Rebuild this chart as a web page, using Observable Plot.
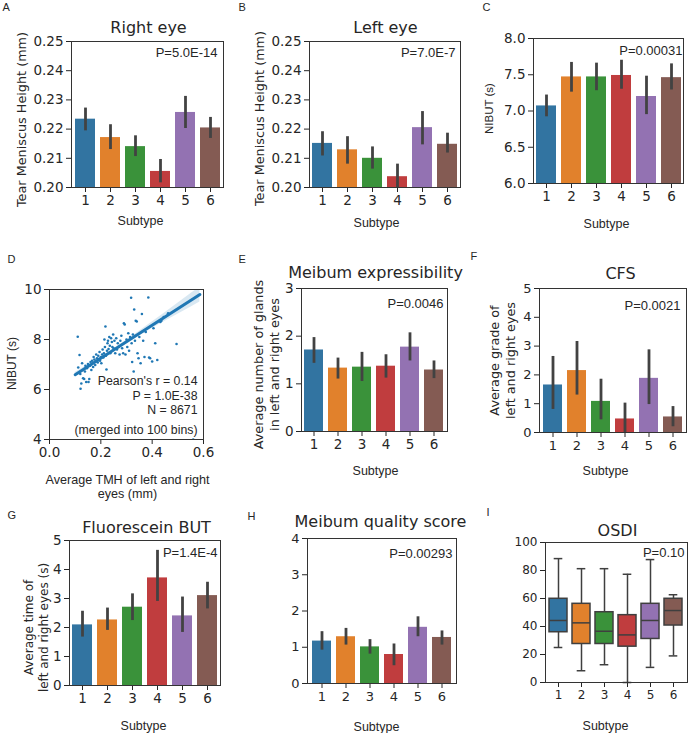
<!DOCTYPE html>
<html><head><meta charset="utf-8">
<script src="https://cdn.jsdelivr.net/npm/d3@7"></script>
<script src="https://cdn.jsdelivr.net/npm/@observablehq/plot@0.6"></script>
<style>
body{margin:0;background:#fff;}
#fig{position:relative;width:690px;height:733px;overflow:hidden;background:#fff;}
#fig svg{position:absolute;left:0;top:0;}
</style></head><body><div id="fig"></div>
<script>
// ---------- data ----------
const subtypes = ["1","2","3","4","5","6"];
const palette = ["#3274a1","#e1812c","#3a923a","#c03d3e","#9372b2","#845b53"];

// A: Right eye TMH
const rightEyeMean = [0.2234,0.2171,0.2140,0.2055,0.2257,0.2204];
const rightEyeLow  = [0.2194,0.2130,0.2106,0.2016,0.2202,0.2168];
const rightEyeHigh = [0.2272,0.2215,0.2177,0.2096,0.2312,0.2240];
// B: Left eye TMH
const leftEyeMean = [0.2151,0.2129,0.2100,0.2037,0.2205,0.2148];
const leftEyeLow  = [0.2108,0.2080,0.2063,0.2000,0.2146,0.2118];
const leftEyeHigh = [0.2191,0.2174,0.2139,0.2080,0.2260,0.2186];
const tmhTicks = [0.20,0.21,0.22,0.23,0.24,0.25];
// C: NIBUT
const nibutMean = [7.07,7.47,7.47,7.49,7.20,7.46];
const nibutLow  = [6.92,7.26,7.28,7.30,6.95,7.29];
const nibutHigh = [7.22,7.67,7.66,7.70,7.48,7.65];
const nibutTicks = [6.0,6.5,7.0,7.5,8.0];
// D: scatter of binned TMH vs NIBUT
const binTMH = [0.110,0.117,0.112,0.120,0.121,0.124,0.127,0.131,0.135,0.138,0.140,0.143,0.146,0.150,0.152,0.155,0.158,0.160,0.163,0.166,0.170,
  0.172,0.175,0.178,0.180,0.182,0.185,0.188,0.190,0.192,0.195,0.197,0.200,0.202,0.205,0.207,0.210,0.212,0.214,0.216,0.218,0.220,0.222,0.224,0.226,0.228,0.230,0.233,0.235,0.237,0.240,0.243,0.245,0.248,0.250,0.253,0.256,
  0.260,0.263,0.266,0.270,0.273,0.276,0.280,0.283,0.287,0.290,0.293,0.296,0.300,0.303,0.307,0.310,0.314,0.318,0.320,0.322,0.325,0.328,0.330,0.333,0.336,0.340,0.343,0.347,0.350,0.355,0.360,0.365,0.370,0.375,
  0.385,0.388,0.392,0.400,0.405,0.412,0.420,0.432,0.436,0.445,0.462,0.495,0.560];
const binNIBUT = [8.11,7.38,6.88,6.62,6.03,6.24,7.05,6.45,6.42,6.72,6.95,6.30,6.85,7.02,6.30,6.42,6.95,7.10,6.78,7.15,6.90,
  7.30,7.20,6.98,7.12,7.40,7.25,7.08,7.35,7.22,7.50,7.15,7.30,7.05,7.40,7.60,7.28,7.45,8.00,7.70,8.52,7.35,6.80,7.55,7.85,7.95,7.62,8.10,7.75,7.45,8.05,7.90,7.70,8.20,7.65,7.95,7.45,
  8.05,7.60,7.85,7.70,7.40,7.95,8.15,7.65,7.45,8.65,8.60,7.40,8.00,7.70,8.25,7.55,8.10,9.67,7.85,7.10,8.20,6.72,9.20,7.95,8.75,8.72,7.45,7.25,8.10,7.05,9.02,7.95,7.30,8.30,
  9.68,7.28,7.25,7.12,8.45,7.85,7.18,8.70,8.75,8.90,9.05,7.82,4.00];
const regX = [0.100,0.586];
const regY = [6.59,9.80];
const bandX    = [0.100,0.150,0.200,0.250,0.300,0.350,0.400,0.450,0.500,0.550,0.586];
const bandLow  = [6.50,6.85,7.20,7.53,7.85,8.15,8.44,8.73,9.01,9.29,9.50];
const bandHigh = [6.68,6.99,7.30,7.63,7.97,8.33,8.70,9.07,9.45,9.83,10.10];
const dXTicks = [0,0.2,0.4,0.6];
const dYTicks = [4,6,8,10];
// E: Meibum expressibility
const expressMean = [1.71,1.33,1.35,1.37,1.77,1.29];
const expressLow  = [1.43,1.10,1.05,1.12,1.48,1.11];
const expressHigh = [1.97,1.54,1.66,1.61,2.07,1.48];
// F: CFS
const cfsMean = [1.65,2.15,1.08,0.47,1.88,0.54];
const cfsLow  = [0.80,1.30,0.44,0.00,0.97,0.20];
const cfsHigh = [2.64,3.16,1.85,1.02,2.87,0.90];
// G: Fluorescein BUT
const fbutMean = [2.09,2.26,2.70,3.71,2.40,3.10];
const fbutLow  = [1.67,1.90,2.24,2.90,1.83,2.64];
const fbutHigh = [2.56,2.67,3.16,4.66,3.05,3.56];
// H: Meibum quality score
const qualityMean = [1.17,1.29,1.01,0.80,1.55,1.27];
const qualityLow  = [0.92,1.06,0.81,0.49,1.29,1.06];
const qualityHigh = [1.43,1.52,1.21,1.09,1.84,1.45];
// I: OSDI boxplot
const osdiWhiskerLow  = [25.0,8.4,12.7,0.0,10.8,19.0];
const osdiQ1          = [35.9,27.5,27.5,25.6,31.1,40.7];
const osdiMedian      = [44.3,42.6,36.6,34.0,44.3,51.4];
const osdiQ3          = [59.8,56.2,50.2,48.1,56.2,59.8];
const osdiWhiskerHigh = [88.5,81.3,81.3,77.3,87.8,62.7];

// ---------- layout ----------
const W = 690, H = 733;
const DJ = "DejaVu Sans, sans-serif";
const LS = "Liberation Sans, Arial, sans-serif";
const INK = "#262626";
const fig = document.getElementById("fig");

function txt(frame, s, px, py, o = {}) {
  return Plot.text([s], {frameAnchor: "top-left", dx: px - frame[0], dy: py - frame[1],
    text: d => d, fill: INK, lineAnchor: "middle", ...o});
}
function base(frame, fs) {
  const [l, t, r, b] = frame;
  return {width: W, height: H, marginLeft: l, marginTop: t, marginRight: W - r, marginBottom: H - b,
    style: {background: "transparent", overflow: "visible", color: INK, fontFamily: DJ, fontSize: fs + "px"}};
}
function decorations(frame, c) {
  const m = [];
  if (c.title) m.push(txt(frame, c.title[0], c.title[1], c.title[2], {fontSize: 16, fontFamily: DJ, textAnchor: "middle"}));
  if (c.p) m.push(txt(frame, c.p[0], c.p[1], c.p[2], {fontSize: 13, fontFamily: LS, textAnchor: "end"}));
  if (c.ylab) m.push(txt(frame, c.ylab[0], c.ylab[1], c.ylab[2], {fontSize: c.ylab[3], fontFamily: c.ylab[4] || DJ, textAnchor: "middle", rotate: -90, lineHeight: 1.25}));
  if (c.xlab) m.push(txt(frame, c.xlab[0], c.xlab[1], c.xlab[2], {fontSize: c.xlab[3] || 12.5, fontFamily: LS, textAnchor: "middle", lineHeight: 1.15}));
  if (c.letter) m.push(txt(frame, c.letter[0], c.letter[1], c.letter[2], {fontSize: 11, fontFamily: LS, textAnchor: "start", lineAnchor: "bottom"}));
  return m;
}
function barPanel(c) {
  const rows = subtypes.map((s, i) => ({s, v: c.mean[i], lo: c.low[i], hi: c.high[i]}));
  const y0 = c.ticks[0];
  fig.append(Plot.plot({
    ...base(c.frame, c.fs),
    x: {domain: subtypes, paddingInner: 0.2, paddingOuter: 0.1, label: null, tickSize: 5, tickPadding: 3},
    y: {domain: [c.ticks[0], c.ticks[c.ticks.length - 1]], ticks: c.ticks, tickFormat: c.fmt, label: null, tickSize: 5, tickPadding: 3},
    color: {domain: subtypes, range: palette},
    marks: [
      Plot.barY(rows, {x: "s", y1: y0, y2: "v", fill: "s"}),
      Plot.ruleX(rows, {x: "s", y1: "lo", y2: "hi", stroke: "#424242", strokeWidth: 2.8}),
      Plot.frame({stroke: "#333", strokeWidth: 1}),
      ...decorations(c.frame, c)
    ]
  }));
}

// A
barPanel({frame: [71, 41, 223, 187], fs: 13.5, mean: rightEyeMean, low: rightEyeLow, high: rightEyeHigh, ticks: tmhTicks, fmt: ".2f",
  title: ["Right eye", 148, 27], p: ["P=5.0E-14", 217, 52], ylab: ["Tear Meniscus Height (mm)", 20, 119, 12.8],
  xlab: ["Subtype", 140, 220], letter: ["A", 2, 10]});
// B
barPanel({frame: [309, 41, 460, 187], fs: 13.5, mean: leftEyeMean, low: leftEyeLow, high: leftEyeHigh, ticks: tmhTicks, fmt: ".2f",
  title: ["Left eye", 385, 27], p: ["P=7.0E-7", 455, 52], ylab: ["Tear Meniscus Height (mm)", 258, 118, 12.8],
  xlab: ["Subtype", 376, 222], letter: ["B", 238, 10]});
// C
barPanel({frame: [533, 38, 683, 183], fs: 13.5, mean: nibutMean, low: nibutLow, high: nibutHigh, ticks: nibutTicks, fmt: ".1f",
  p: ["P=0.00031", 682, 50], ylab: ["NIBUT (s)", 488, 108, 11.5, LS],
  xlab: ["Subtype", 606, 223], letter: ["C", 482, 10]});
// E
barPanel({frame: [301, 288, 447, 431], fs: 13.5, mean: expressMean, low: expressLow, high: expressHigh, ticks: [0, 1, 2, 3], fmt: "d",
  title: ["Meibum expressibility", 375, 272], p: ["P=0.0046", 443, 303], ylab: ["Average number of glands\nin left and right eyes", 265, 364, 12.8],
  xlab: ["Subtype", 375, 470], letter: ["E", 238, 262]});
// F
barPanel({frame: [539, 288, 686, 432], fs: 13, mean: cfsMean, low: cfsLow, high: cfsHigh, ticks: [0, 1, 2, 3, 4, 5], fmt: "d",
  title: ["CFS", 620, 273], p: ["P=0.0021", 680, 305], ylab: ["Average grade of\nleft and right eyes", 501, 360, 12.8],
  xlab: ["Subtype", 605, 470], letter: ["F", 470, 259]});
// G
barPanel({frame: [69, 540, 220, 685], fs: 13.5, mean: fbutMean, low: fbutLow, high: fbutHigh, ticks: [0, 1, 2, 3, 4, 5], fmt: "d",
  title: ["Fluorescein BUT", 146, 527], p: ["P=1.4E-4", 217, 552], ylab: ["Average time of\nleft and right eyes (s)", 35, 627, 12],
  xlab: ["Subtype", 143, 725], letter: ["G", 7, 518]});
// H
barPanel({frame: [307, 538, 456, 683], fs: 13, mean: qualityMean, low: qualityLow, high: qualityHigh, ticks: [0, 1, 2, 3, 4], fmt: "d",
  title: ["Meibum quality score", 380, 521], p: ["P=0.00293", 452, 553],
  xlab: ["Subtype", 376, 726], letter: ["H", 247, 519]});

// D scatter
{
  const frame = [49, 289, 203, 439];
  const pts = binTMH.map((x, i) => ({x, y: binNIBUT[i]}));
  const line = regX.map((x, i) => ({x, y: regY[i]}));
  const band = bandX.map((x, i) => ({x, lo: bandLow[i], hi: bandHigh[i]}));
  const ann = {fontSize: 12.3, fontFamily: LS, textAnchor: "end"};
  fig.append(Plot.plot({
    ...base(frame, 13.5),
    x: {domain: [0, 0.6], ticks: dXTicks, tickFormat: ".1f", label: null, tickSize: 5, tickPadding: 3},
    y: {domain: [4, 10], ticks: dYTicks, tickFormat: "d", label: null, tickSize: 5, tickPadding: 3},
    marks: [
      Plot.areaY(band, {x: "x", y1: "lo", y2: "hi", fill: "#1f77b4", fillOpacity: 0.17, clip: true}),
      Plot.dot(pts, {x: "x", y: "y", r: 1.3, fill: "#1f77b4", stroke: "none", clip: true}),
      Plot.line(line, {x: "x", y: "y", stroke: "#1f77b4", strokeWidth: 3, clip: true}),
      Plot.frame({stroke: "#333", strokeWidth: 1}),
      txt(frame, "Pearson's r = 0.14", 197, 381, ann),
      txt(frame, "P = 1.0E-38", 197, 395.5, ann),
      txt(frame, "N = 8671", 197, 410, ann),
      txt(frame, "(merged into 100 bins)", 197, 430, ann),
      ...decorations(frame, {ylab: ["NIBUT (s)", 11, 363, 12, LS],
        xlab: ["Average TMH of left and right\neyes (mm)", 127, 486, 12.6], letter: ["D", 7, 262]})
    ]
  }));
}

// I boxplot
{
  const frame = [545, 542, 687, 682];
  const rows = subtypes.map((s, i) => ({s, lo: osdiWhiskerLow[i], q1: osdiQ1[i], med: osdiMedian[i], q3: osdiQ3[i], hi: osdiWhiskerHigh[i]}));
  const ink = "#3f3f3f";
  fig.append(Plot.plot({
    ...base(frame, 12),
    x: {domain: subtypes, paddingInner: 0.2, paddingOuter: 0.1, label: null, tickSize: 5, tickPadding: 3},
    y: {domain: [0, 100], ticks: [0, 20, 40, 60, 80, 100], tickFormat: "d", label: null, tickSize: 5, tickPadding: 3},
    color: {domain: subtypes, range: palette},
    marks: [
      Plot.ruleX(rows, {x: "s", y1: "lo", y2: "q1", stroke: ink, strokeWidth: 1.5}),
      Plot.ruleX(rows, {x: "s", y1: "q3", y2: "hi", stroke: ink, strokeWidth: 1.5}),
      Plot.barY(rows, {x: "s", y1: "q1", y2: "q3", fill: "s", stroke: ink, strokeWidth: 1.5}),
      Plot.tickY(rows, {x: "s", y: "med", stroke: ink, strokeWidth: 1.5}),
      Plot.tickY(rows, {x: "s", y: "lo", stroke: ink, strokeWidth: 1.5, insetLeft: 4.7, insetRight: 4.7}),
      Plot.tickY(rows, {x: "s", y: "hi", stroke: ink, strokeWidth: 1.5, insetLeft: 4.7, insetRight: 4.7}),
      Plot.frame({stroke: "#333", strokeWidth: 1}),
      ...decorations(frame, {title: ["OSDI", 617, 530], p: ["P=0.10", 684, 552],
        xlab: ["Subtype", 605, 725], letter: ["I", 486, 515]})
    ]
  }));
}
</script></body></html>
